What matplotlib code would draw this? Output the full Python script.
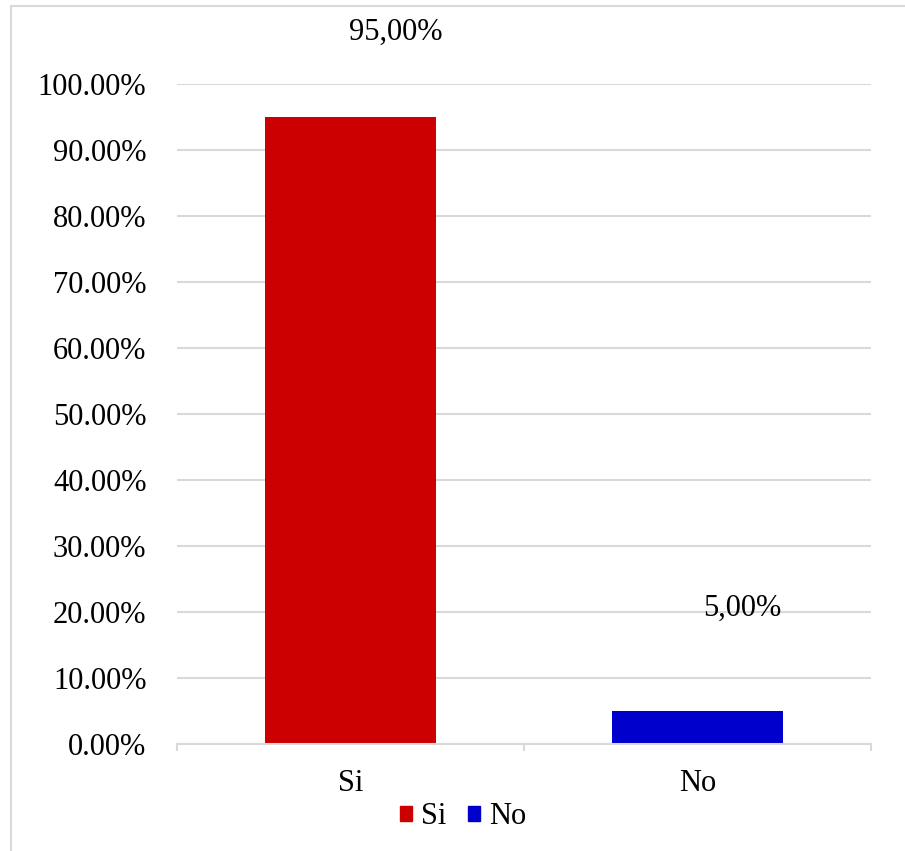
import matplotlib
matplotlib.use("Agg")
import matplotlib.pyplot as plt
from matplotlib.patches import Rectangle, Patch
from matplotlib.ticker import FuncFormatter, MultipleLocator

categories = ["Si", "No"]
values = [0.95, 0.05]
labels = ["95,00%", "5,00%"]
label_y = [1.079, 0.206]
colors = ["#CC0000", "#0000CC"]

plt.rcParams['font.family'] = ['Liberation Serif', 'DejaVu Serif']
W, H = 905, 851
fig = plt.figure(figsize=(W/100, H/100), dpi=100)
ax = fig.add_axes([177/W, 1-744/H, (871-177)/W, 660/H])

x = range(len(categories))
ax.bar(x, values, width=0.49, color=colors, zorder=3)
ax.set_xlim(-0.5, 1.5)
ax.set_ylim(0, 1.0)
ax.yaxis.set_major_locator(MultipleLocator(0.1))
ax.yaxis.set_major_formatter(FuncFormatter(lambda v, p: f"{v*100:.2f}%"))
ax.grid(axis='y', color='#D9D9D9', linewidth=1.5, zorder=0)
ax.set_axisbelow(True)
for s in ['top', 'right', 'left']:
    ax.spines[s].set_visible(False)
ax.spines['bottom'].set_color('#D9D9D9')
ax.spines['bottom'].set_linewidth(1.5)
ax.spines['bottom'].set_zorder(4)
ax.tick_params(axis='y', length=0, labelsize=22, pad=22)
ax.set_xticks(x)
ax.set_xticklabels(categories)
ax.tick_params(axis='x', length=0, labelsize=22, pad=18)
ax.set_xticks([-0.5, 0.5, 1.5], minor=True)
ax.tick_params(axis='x', which='minor', length=5, width=1.5, color='#D9D9D9')
for i, (lbl, ly) in enumerate(zip(labels, label_y)):
    ax.text(i + 0.13, ly, lbl, ha='center', va='center', fontsize=22, clip_on=False)

handles = [Patch(color=c, label=l) for c, l in zip(colors, categories)]
fig.legend(handles=handles, loc='center', bbox_to_anchor=(463/W, 1-817/H), ncol=2,
           frameon=False, fontsize=22, handlelength=0.4, handleheight=0.4,
           handletextpad=0.3, columnspacing=0.7)

fig.patches.append(Rectangle((11/W, -0.01), 1.0, 1-6/H+0.01, transform=fig.transFigure,
                             fill=False, edgecolor='#D9D9D9', linewidth=1.5))
fig.savefig("out.png", dpi=100)
